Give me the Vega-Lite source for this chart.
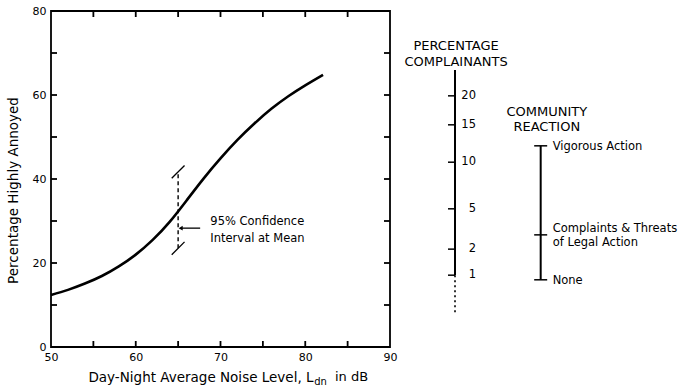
{
  "$schema": "https://vega.github.io/schema/vega-lite/v6.json",
  "width": 339,
  "height": 336,
  "autosize": {"type": "none"},
  "padding": {"left": 51, "top": 11, "right": 298, "bottom": 40},
  "background": "white",
  "config": {
    "view": {"stroke": "black", "strokeWidth": 1.8},
    "font": "DejaVu Sans",
    "axis": {"labelColor": "black", "titleColor": "black", "grid": false, "domain": false, "ticks": false, "labelFontSize": 11, "titleFontWeight": "normal", "titleFontSize": 13.5, "labelFlush": false},
    "text": {"color": "black", "fontSize": 11}
  },
  "datasets": {
    "curve": [
      {"ldn": 50, "pctHA": 12.4}, {"ldn": 52, "pctHA": 13.6}, {"ldn": 54, "pctHA": 15.1}, {"ldn": 56, "pctHA": 16.9},
      {"ldn": 58, "pctHA": 19.2}, {"ldn": 60, "pctHA": 22.0}, {"ldn": 62, "pctHA": 25.5}, {"ldn": 64, "pctHA": 29.8},
      {"ldn": 66, "pctHA": 34.9}, {"ldn": 68, "pctHA": 40.1}, {"ldn": 70, "pctHA": 44.9}, {"ldn": 72, "pctHA": 49.3},
      {"ldn": 74, "pctHA": 53.2}, {"ldn": 76, "pctHA": 56.7}, {"ldn": 78, "pctHA": 59.7}, {"ldn": 80, "pctHA": 62.3},
      {"ldn": 82.1, "pctHA": 64.8}
    ],
    "xticks": [{"ldn": 55}, {"ldn": 60}, {"ldn": 65}, {"ldn": 70}, {"ldn": 75}, {"ldn": 80}, {"ldn": 85}],
    "yticks": [{"pctHA": 10}, {"pctHA": 20}, {"pctHA": 30}, {"pctHA": 40}, {"pctHA": 50}, {"pctHA": 60}, {"pctHA": 70}],
    "ci": [{"ldn": 65, "low": 23.5, "high": 41.7}],
    "complainants": [
      {"complainants": "20", "pctHA": 59.8}, {"complainants": "15", "pctHA": 52.9}, {"complainants": "10", "pctHA": 44.0},
      {"complainants": "5", "pctHA": 32.9}, {"complainants": "2", "pctHA": 23.3}, {"complainants": "1", "pctHA": 17.1}
    ],
    "reaction": [
      {"reaction": "Vigorous Action", "pctHA": 47.9},
      {"reaction": "Complaints & Threats\nof Legal Action", "pctHA": 26.7},
      {"reaction": "None", "pctHA": 16.0}
    ]
  },
  "layer": [
    {
      "data": {"name": "curve"},
      "mark": {"type": "line", "interpolate": "natural", "color": "black", "strokeWidth": 2.6},
      "encoding": {
        "x": {"field": "ldn", "type": "quantitative", "scale": {"domain": [50, 90], "nice": false, "zero": false},
          "axis": {"orient": "bottom", "values": [50, 60, 70, 80, 90], "labelPadding": 4,
            "title": "Day-Night Average Noise Level, L", "titleAlign": "right", "titleX": 262, "titleY": 34, "titleBaseline": "alphabetic"}},
        "y": {"field": "pctHA", "type": "quantitative", "scale": {"domain": [0, 80], "nice": false},
          "axis": {"orient": "left", "values": [0, 20, 40, 60, 80], "labelPadding": 5,
            "title": "Percentage Highly Annoyed", "titleX": -38, "titleY": 179, "titleBaseline": "middle", "titleAngle": -90}}
      }
    },
    {
      "data": {"name": "xticks"},
      "mark": {"type": "tick", "orient": "vertical", "size": 6, "thickness": 1.8, "yOffset": -3, "color": "black", "opacity": 1},
      "encoding": {
        "x": {"field": "ldn", "type": "quantitative", "axis": null},
        "y": {"datum": 0, "type": "quantitative", "axis": null}
      }
    },
    {
      "data": {"name": "xticks"},
      "mark": {"type": "tick", "orient": "vertical", "size": 6, "thickness": 1.8, "yOffset": 3, "color": "black", "opacity": 1},
      "encoding": {
        "x": {"field": "ldn", "type": "quantitative", "axis": null},
        "y": {"datum": 80, "type": "quantitative", "axis": null}
      }
    },
    {
      "data": {"name": "yticks"},
      "mark": {"type": "tick", "orient": "horizontal", "size": 6, "thickness": 1.8, "xOffset": 3, "color": "black", "opacity": 1},
      "encoding": {
        "x": {"datum": 50, "type": "quantitative", "axis": null},
        "y": {"field": "pctHA", "type": "quantitative", "axis": null}
      }
    },
    {
      "data": {"name": "yticks"},
      "mark": {"type": "tick", "orient": "horizontal", "size": 6, "thickness": 1.8, "xOffset": -3, "color": "black", "opacity": 1},
      "encoding": {
        "x": {"datum": 90, "type": "quantitative", "axis": null},
        "y": {"field": "pctHA", "type": "quantitative", "axis": null}
      }
    },
    {
      "data": {"name": "ci"},
      "mark": {"type": "rule", "color": "black", "strokeWidth": 1.4, "strokeDash": [4, 3]},
      "encoding": {
        "x": {"field": "ldn", "type": "quantitative", "axis": null},
        "y": {"field": "low", "type": "quantitative", "axis": null},
        "y2": {"field": "high"}
      }
    },
    {
      "data": {"name": "ci"},
      "mark": {"type": "point", "shape": "stroke", "angle": -45, "size": 330, "filled": false, "stroke": "black", "strokeWidth": 1.3, "opacity": 1},
      "encoding": {
        "x": {"field": "ldn", "type": "quantitative", "axis": null},
        "y": {"field": "low", "type": "quantitative", "axis": null}
      }
    },
    {
      "data": {"name": "ci"},
      "mark": {"type": "point", "shape": "stroke", "angle": -45, "size": 330, "filled": false, "stroke": "black", "strokeWidth": 1.3, "opacity": 1},
      "encoding": {
        "x": {"field": "ldn", "type": "quantitative", "axis": null},
        "y": {"field": "high", "type": "quantitative", "axis": null}
      }
    },
    {
      "data": {"values": [{}]},
      "mark": {"type": "rule", "color": "black", "strokeWidth": 1.3},
      "encoding": {
        "x": {"datum": 65.4, "type": "quantitative", "axis": null},
        "x2": {"datum": 67.6},
        "y": {"datum": 28.3, "type": "quantitative", "axis": null}
      }
    },
    {
      "data": {"values": [{}]},
      "mark": {"type": "point", "shape": "triangle-left", "size": 22, "filled": true, "color": "black", "opacity": 1},
      "encoding": {
        "x": {"datum": 65.3, "type": "quantitative", "axis": null},
        "y": {"datum": 28.3, "type": "quantitative", "axis": null}
      }
    },
    {
      "data": {"values": [{}]},
      "mark": {"type": "text", "text": ["95% Confidence", "Interval at Mean"], "align": "left", "baseline": "middle", "lineHeight": 17, "fontSize": 11.5},
      "encoding": {
        "x": {"datum": 68.8, "type": "quantitative", "axis": null},
        "y": {"datum": 29.8, "type": "quantitative", "axis": null}
      }
    },
    {
      "data": {"values": [{}]},
      "mark": {"type": "text", "text": "dn", "align": "left", "baseline": "alphabetic", "fontSize": 10, "dy": 38},
      "encoding": {
        "x": {"datum": 81.05, "type": "quantitative", "axis": null},
        "y": {"datum": 0, "type": "quantitative", "axis": null}
      }
    },
    {
      "data": {"values": [{}]},
      "mark": {"type": "text", "text": "in dB", "align": "left", "baseline": "alphabetic", "fontSize": 13, "dy": 34},
      "encoding": {
        "x": {"datum": 83.5, "type": "quantitative", "axis": null},
        "y": {"datum": 0, "type": "quantitative", "axis": null}
      }
    },
    {
      "data": {"values": [{}]},
      "mark": {"type": "rule", "color": "black", "strokeWidth": 2},
      "encoding": {
        "x": {"datum": 97.67, "type": "quantitative", "axis": null},
        "y": {"datum": 17.1, "type": "quantitative", "axis": null},
        "y2": {"datum": 65.95}
      }
    },
    {
      "data": {"values": [{}]},
      "mark": {"type": "rule", "color": "black", "strokeWidth": 1.6, "strokeDash": [2, 3]},
      "encoding": {
        "x": {"datum": 97.67, "type": "quantitative", "axis": null},
        "y": {"datum": 8.3, "type": "quantitative", "axis": null},
        "y2": {"datum": 17.1}
      }
    },
    {
      "data": {"name": "complainants"},
      "mark": {"type": "tick", "orient": "horizontal", "size": 7, "thickness": 1.5, "xOffset": -3.5, "color": "black", "opacity": 1},
      "encoding": {
        "x": {"datum": 97.67, "type": "quantitative", "axis": null},
        "y": {"field": "pctHA", "type": "quantitative", "axis": null}
      }
    },
    {
      "data": {"name": "complainants"},
      "mark": {"type": "text", "align": "right", "baseline": "middle", "dx": 21, "fontSize": 11.5},
      "encoding": {
        "x": {"datum": 97.67, "type": "quantitative", "axis": null},
        "y": {"field": "pctHA", "type": "quantitative", "axis": null},
        "text": {"field": "complainants"}
      }
    },
    {
      "data": {"values": [{}]},
      "mark": {"type": "text", "text": ["PERCENTAGE", "COMPLAINANTS"], "align": "center", "baseline": "middle", "lineHeight": 16, "fontSize": 13},
      "encoding": {
        "x": {"datum": 97.8, "type": "quantitative", "axis": null},
        "y": {"datum": 71.7, "type": "quantitative", "axis": null}
      }
    },
    {
      "data": {"values": [{}]},
      "mark": {"type": "rule", "color": "black", "strokeWidth": 2},
      "encoding": {
        "x": {"datum": 107.78, "type": "quantitative", "axis": null},
        "y": {"datum": 16.0, "type": "quantitative", "axis": null},
        "y2": {"datum": 47.9}
      }
    },
    {
      "data": {"name": "reaction"},
      "mark": {"type": "tick", "orient": "horizontal", "size": 13, "thickness": 1.5, "color": "black", "opacity": 1},
      "encoding": {
        "x": {"datum": 107.78, "type": "quantitative", "axis": null},
        "y": {"field": "pctHA", "type": "quantitative", "axis": null}
      }
    },
    {
      "data": {"name": "reaction"},
      "transform": [{"filter": "indexof(datum.reaction, '&') < 0"}],
      "mark": {"type": "text", "align": "left", "baseline": "middle", "dx": 12, "dy": 1, "fontSize": 11.5},
      "encoding": {
        "x": {"datum": 107.78, "type": "quantitative", "axis": null},
        "y": {"field": "pctHA", "type": "quantitative", "axis": null},
        "text": {"field": "reaction"}
      }
    },
    {
      "data": {"name": "reaction"},
      "transform": [{"filter": "indexof(datum.reaction, '&') >= 0"}],
      "mark": {"type": "text", "align": "left", "baseline": "middle", "dx": 12, "dy": -6, "lineBreak": "\n", "lineHeight": 14, "fontSize": 11.5},
      "encoding": {
        "x": {"datum": 107.78, "type": "quantitative", "axis": null},
        "y": {"field": "pctHA", "type": "quantitative", "axis": null},
        "text": {"field": "reaction"}
      }
    },
    {
      "data": {"values": [{}]},
      "mark": {"type": "text", "text": ["COMMUNITY", "REACTION"], "align": "center", "baseline": "middle", "lineHeight": 15, "fontSize": 13},
      "encoding": {
        "x": {"datum": 108.5, "type": "quantitative", "axis": null},
        "y": {"datum": 55.95, "type": "quantitative", "axis": null}
      }
    }
  ],
  "resolve": {"axis": {"x": "independent", "y": "independent"}}
}
